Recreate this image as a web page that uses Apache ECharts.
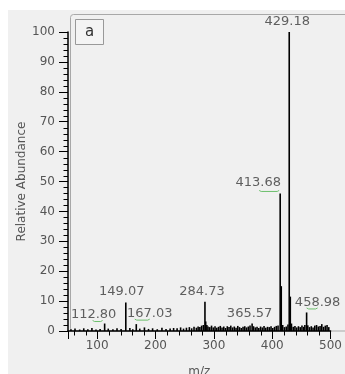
<!DOCTYPE html>
<html><head><meta charset="utf-8">
<script src="https://cdn.jsdelivr.net/npm/echarts@6/dist/echarts.min.js"></script>
<style>
html,body{margin:0;padding:0;background:#fff;}
#bg{position:absolute;left:8px;top:10px;width:337px;height:364px;background:#f0f0f0;}
#chart{position:absolute;left:0;top:0;width:345px;height:374px;}
</style></head><body><div id="bg"></div><div id="chart"></div>
<script>
// m/z of every visible stick (noise and peaks)
const mzValues = [55,62,70,77,84,91,98,105,112.8,119,127,134,141,149.07,156,161,167.03,173,181,188,195,203,211,218,225,231,237,243,248,253,258,262,266,270,273,276,279,282,284.73,286,288,290,293,296,299,302,305,308,311,314,317,320,323,326,329,332,335,338,341,344,347,350,353,356,359,362,365.57,368,371,374,377,380,383,386,389,392,395,398,401,404,407,410,413.68,415.5,418,421,424,427,429.18,431,433,436,439,442,445,448,451,454,456,458.98,461,464,467,470,473,476,479,482,485,488,491,494,497];
// relative abundance (%) of each stick
const intensities = [0.6,0.8,0.5,0.9,0.6,1.0,0.5,0.7,2.5,0.8,0.6,0.9,0.7,9.5,1.0,0.6,2.3,0.8,1.2,0.7,0.9,0.6,1.1,0.7,0.8,1.0,0.9,1.2,0.8,1.1,1.3,0.9,1.4,1.1,1.5,1.3,1.8,2.0,9.8,3.2,2.0,1.5,1.3,1.8,1.2,1.6,1.1,1.4,1.7,1.2,1.5,1.0,1.6,1.3,1.8,1.2,1.5,1.1,1.7,1.3,1.0,1.4,1.6,1.2,1.5,1.8,2.5,1.6,1.2,1.4,1.0,1.5,1.2,1.7,1.1,1.4,1.3,1.6,1.0,1.4,1.7,1.8,46,15,2.0,1.3,1.5,2.2,100,11.5,2.5,1.4,1.7,1.2,1.6,1.3,1.8,1.4,2.0,6.2,1.9,1.3,1.6,1.2,1.8,2.0,1.5,1.7,2.3,1.4,1.8,2.0,1.3];
// annotated peaks
const labeledMz = [112.80,149.07,167.03,284.73,365.57,413.68,429.18,458.98];
const labeledIntensity = [2.5,9.5,2.3,9.8,2.5,46,100,6.2];
const labelTexts = ['112.80','149.07','167.03','284.73','365.57','413.68','429.18','458.98'];
// minor tick values of the two axes
const xMinorTicks = [60,80,120,140,160,180,220,240,260,280,320,340,360,380,420,440,460,480];
const yMinorTicks = [2,4,6,8,12,14,16,18,22,24,26,28,32,34,36,38,42,44,46,48,52,54,56,58,62,64,66,68,72,74,76,78,82,84,86,88,92,94,96,98];
const xAxisName = 'm/z';
const yAxisName = 'Relative Abundance';
const panelLetter = 'a';

// styling: label offsets (px) from peak top and underline spans (px from label centre)
const labelOffsets = [[-11,-8.5],[-4,-10.5],[13.5,-10],[-3,-10],[-2.5,-9.5],[-22,-10.5],[-2,-10.5],[11,-9.5]];
const underlineSpans = {0:[-1,9,6.5],2:[-15,0,6],5:[1,21,8.5],7:[-11,0,6]};

const FONT = 'DejaVu Sans';
const chart = echarts.init(document.getElementById('chart'));
const stickData = mzValues.map((m,i)=>[m,intensities[i]]);
const labelData = labeledMz.map((m,i)=>({
  value:[m,labeledIntensity[i]],
  label:{offset:labelOffsets[i], formatter:labelTexts[i]}
}));

chart.setOption({
  animation:false,
  backgroundColor:'transparent',
  grid:{left:68,right:14,top:32,bottom:43,outerBoundsContain:'axisLabel'},
  xAxis:{
    type:'value',min:50,max:500,splitNumber:5,
    name:xAxisName,nameLocation:'middle',nameGap:35,
    nameTextStyle:{color:'#555',fontSize:12,fontFamily:FONT},
    axisLine:{lineStyle:{color:'#000',width:1.5}},
    axisTick:{show:true,length:8,lineStyle:{color:'#000',width:1}},
    splitLine:{show:false},
    axisLabel:{color:'#555',fontSize:12,fontFamily:FONT,margin:9,
      formatter:v=> (v%100===0? String(v):'')}
  },
  yAxis:{
    type:'value',min:0,max:100,interval:10,
    axisLine:{show:true,lineStyle:{color:'#000',width:1.5}},
    axisTick:{show:true,length:9,lineStyle:{color:'#000'}},
    splitLine:{show:false},
    axisLabel:{color:'#555',fontSize:12,fontFamily:FONT,margin:13}
  },
  series:[
    {type:'bar',data:stickData,barWidth:1.6,itemStyle:{color:'#000'},z:3},
    {type:'scatter',data:labelData,symbolSize:0,z:4,
      label:{show:true,position:'inside',color:'#3a3a3a',fontSize:13,fontFamily:FONT}}
  ]
});

// decorations: frame, panel letter box, y title, minor ticks, green underlines (all placed via the axes)
const mid = chart.convertToPixel({yAxisIndex:0},50);
const x0 = chart.convertToPixel({xAxisIndex:0},50);
const y0 = chart.convertToPixel({yAxisIndex:0},0);
const g = [
  {type:'rect',shape:{x:70.5,y:14.5,width:300,height:316.5,r:3},
   style:{fill:null,stroke:'#a8a8a8',lineWidth:1},z:-1},
  {type:'rect',shape:{x:75.5,y:19.5,width:28,height:25},
   style:{fill:'#f4f4f4',stroke:'#999',lineWidth:1},z:5},
  {type:'text',x:89.5,y:32,style:{text:panelLetter,fill:'#333',font:'15px '+FONT,align:'center',verticalAlign:'middle'},z:6},
  {type:'text',x:22,y:mid,rotation:Math.PI/2,style:{text:yAxisName,fill:'#555',font:'12px '+FONT,align:'center',verticalAlign:'middle'},z:6}
];
yMinorTicks.forEach(v=>{
  const py=Math.round(chart.convertToPixel({yAxisIndex:0},v))+0.5;
  g.push({type:'line',shape:{x1:x0-4.5,y1:py,x2:x0,y2:py},style:{stroke:'#000',lineWidth:1},z:6});
});
xMinorTicks.forEach(v=>{
  const px=Math.round(chart.convertToPixel({xAxisIndex:0},v))+0.5;
  g.push({type:'line',shape:{x1:px,y1:y0,x2:px,y2:y0+4.5},style:{stroke:'#000',lineWidth:1},z:6});
});
Object.keys(underlineSpans).forEach(k=>{
  const i=+k; const p=chart.convertToPixel({xAxisIndex:0,yAxisIndex:0},[labeledMz[i],labeledIntensity[i]]);
  const cx=p[0]+labelOffsets[i][0], cy=p[1]+labelOffsets[i][1];
  const s=underlineSpans[k];
  g.push({type:'polyline',shape:{points:[[cx+s[0],cy+s[2]-1],[cx+s[0]+2,cy+s[2]],[cx+s[1]-2,cy+s[2]],[cx+s[1],cy+s[2]-1]]},
    style:{stroke:'#6cbf6c',lineWidth:1,fill:null},z:6});
});
chart.setOption({graphic:g});
</script></body></html>
